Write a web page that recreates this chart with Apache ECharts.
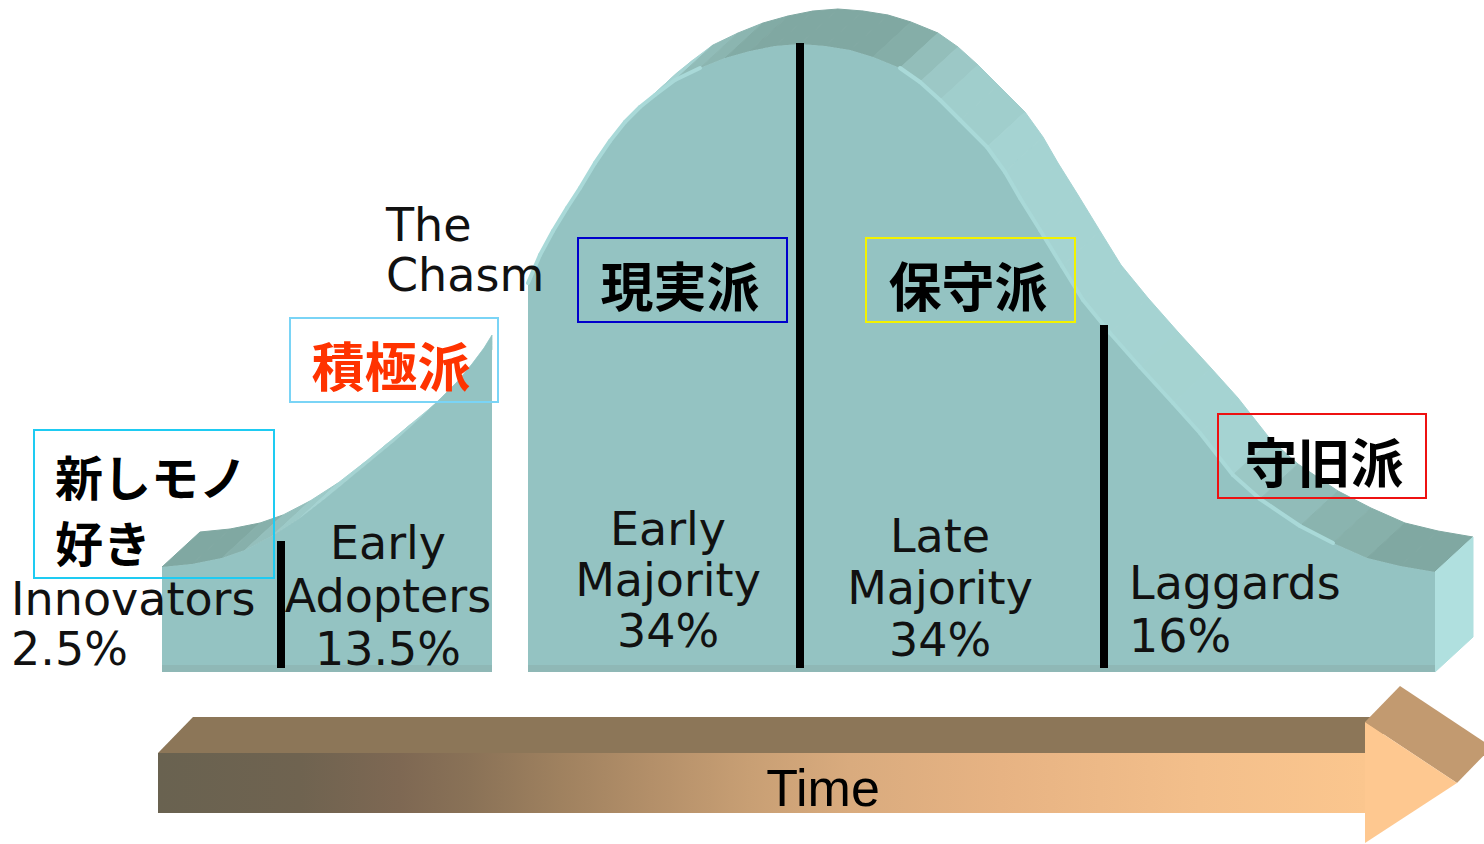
<!DOCTYPE html>
<html>
<head>
<meta charset="utf-8">
<script src="https://cdn.jsdelivr.net/npm/echarts@6/dist/echarts.min.js"></script>
<style>
html,body{margin:0;padding:0;background:#fff;}
#chart{width:1484px;height:844px;}
</style>
</head>
<body>
<div id="chart"></div>
<script>
// ---------------- data ----------------
// Adopter segments (technology adoption life cycle)
const segmentNames  = ['Innovators', 'Early\nAdopters', 'Early\nMajority', 'Late\nMajority', 'Laggards'];
const segmentShares = ['2.5%', '13.5%', '34%', '34%', '16%'];
const segmentTags   = ['新しモノ\n好き', '積極派', '現実派', '保守派', '守旧派'];
const chasmLabel = 'The\nChasm';
const timeLabel = 'Time';

// Front-face top edge of the curve (x position, screen row of the top edge)
const earlyMarketX   = [162,192,222,245,272,300,327,350,373,396,418,440,457,472,484,492];
const earlyMarketTop = [567,564,558,550,536,518,497,478,459,440,420,399,382,364,348,335];
const mainstreamX   = [528,540,553,567,580,595,610,625,640,655,675,700,725,750,775,800,825,850,873,900,
                       920,940,960,987,1005,1020,1040,1062,1083,1110,1140,1173,1200,1233,1260,1300,1333,1367,1400,1435];
const mainstreamTop = [283,255,231,208,188,163,141,122,107,95,80,68,58,51,46,44,46,50,57,68,
                       82,100,120,147,172,198,230,266,300,333,367,403,433,475,499,526,543,558,566,572];
const baseline = 672;
// Segment dividers: x position and top row
const dividerX   = [281, 800, 1104];
const dividerTop = [541, 43, 325];

// ---------------- styling / layout ----------------
const DEPTH = [38, -35];              // 3-D extrusion offset
const C = {
  face: '#94c3c2', topDark: '#80a8a2', topLight: '#a5d3d2', side: '#b0e0df',
  edge: '#a9d9d8', base: '#8fb8b6'
};
const blocks = [
  {x: earlyMarketX, top: earlyMarketTop, side: false, highlight: false},
  {x: mainstreamX,  top: mainstreamTop,  side: true,  highlight: true}
];

function hex2rgb(h){ return [1,3,5].map(i => parseInt(h.substr(i,2),16)); }
function mix(a, b, t){
  const A = hex2rgb(a), B = hex2rgb(b);
  return 'rgb(' + A.map((v,i) => Math.round(v + (B[i]-v)*t)).join(',') + ')';
}
function shade(s){
  const t = s >= 0 ? Math.min(1, Math.max(0, (s - 0.3) / 0.8))
                   : Math.min(1, Math.max(0, (-s - 0.25) / 0.5));
  return mix(C.topDark, C.topLight, t);
}
function clipRight(pts, xmax){
  const out = [], n = pts.length;
  for (let i = 0; i < n; i++){
    const cur = pts[i], prev = pts[(i - 1 + n) % n];
    const ci = cur[0] <= xmax, pi = prev[0] <= xmax;
    const cross = () => {
      const t = (xmax - prev[0]) / (cur[0] - prev[0]);
      return [xmax, prev[1] + (cur[1] - prev[1]) * t];
    };
    if (ci){ if (!pi) out.push(cross()); out.push(cur); }
    else if (pi) out.push(cross());
  }
  return out;
}

function renderBlock(params, api){
  const b = blocks[params.dataIndex];
  const n = b.x.length;
  const P = b.x.map((x,i) => api.coord([x, b.top[i]]));
  const Q = b.x.map((x,i) => api.coord([x + DEPTH[0], b.top[i] + DEPTH[1]]));
  const xEnd = P[n-1][0];
  const baseL = api.coord([b.x[0], baseline]);
  const baseR = api.coord([b.x[n-1], baseline]);
  const children = [];
  for (let i = 0; i < n - 1; i++){
    const s = (b.top[i+1] - b.top[i]) / (b.x[i+1] - b.x[i]);
    let poly = [P[i], P[i+1], Q[i+1], Q[i]];
    if (!b.side) poly = clipRight(poly, xEnd);
    if (poly.length < 3) continue;
    const c = shade(s);
    children.push({type:'polygon', z2: 1, shape:{points: poly}, style:{fill: c, stroke: c, lineWidth: 1}});
  }
  if (b.side){
    const sb = api.coord([b.x[n-1] + DEPTH[0], baseline + DEPTH[1]]);
    children.push({type:'polygon', z2: 2, shape:{points:[P[n-1], baseR, sb, Q[n-1]]},
      style:{fill: C.side, stroke: C.side, lineWidth: 1}});
  }
  children.push({type:'polygon', z2: 3, shape:{points: P.concat([baseR, baseL])},
    style:{fill: C.face}});
  const sL = api.coord([b.x[0], baseline - 7]), sR = api.coord([b.x[n-1], baseline - 7]);
  children.push({type:'polygon', z2: 4, shape:{points:[sL, sR, baseR, baseL]}, style:{fill: C.base}});
  if (b.highlight){
    for (let i = 0; i < n - 1; i++){
      const s = (b.top[i+1] - b.top[i]) / (b.x[i+1] - b.x[i]);
      if (Math.abs(s) < 0.45) continue;
      children.push({type:'line', z2: 5,
        shape:{x1:P[i][0], y1:P[i][1], x2:P[i+1][0], y2:P[i+1][1]},
        style:{stroke: C.edge, lineWidth: 4, lineCap: 'round'}});
    }
  }
  return {type:'group', children};
}

function renderDivider(params, api){
  const p1 = api.coord([api.value(0), api.value(1)]);
  const p2 = api.coord([api.value(0), baseline - 4]);
  return {type:'line', shape:{x1:p1[0], y1:p1[1], x2:p2[0], y2:p2[1]},
    style:{stroke:'#000', lineWidth: 8}};
}

// ---------- annotations (layout) ----------
const LATIN = '46px "DejaVu Sans"';
const labelLayout = [
  {x: 11,   y: 624, align: 'left',   lh: 50},
  {x: 388,  y: 596, align: 'center', lh: 53},
  {x: 668,  y: 580, align: 'center', lh: 51},
  {x: 940,  y: 588, align: 'center', lh: 52},
  {x: 1129, y: 609, align: 'left',   lh: 53}
];
const tagLayout = [
  {x: 55,   y: 508, align: 'left',   lh: 66, size: 48, color: '#000',    box: [34, 430, 240, 148], stroke: '#1ecbf2'},
  {x: 391,  y: 364, align: 'center', lh: 60, size: 53, color: '#ff3300', box: [290, 318, 208, 84], stroke: '#7ad4f6'},
  {x: 680,  y: 284, align: 'center', lh: 60, size: 53, color: '#000',    box: [578, 238, 209, 84], stroke: '#0000cc'},
  {x: 968,  y: 284, align: 'center', lh: 60, size: 53, color: '#000',    box: [866, 238, 209, 84], stroke: '#f2f200'},
  {x: 1324, y: 460, align: 'center', lh: 60, size: 53, color: '#000',    box: [1218, 414, 208, 84], stroke: '#ee1111'}
];

const graphics = [];
// Time arrow
graphics.push({type:'polygon', z: 1, shape:{points:[[158,753],[193,717],[1400,717],[1365,753]]}, style:{fill:'#8c7658'}});
graphics.push({type:'rect', z: 1, shape:{x:158, y:753, width:1207, height:60},
  style:{fill: new echarts.graphic.LinearGradient(0,0,1,0,[
    {offset:0, color:'#696250'}, {offset:0.118, color:'#6f6350'}, {offset:0.2, color:'#7e6853'},
    {offset:0.26, color:'#8a7257'}, {offset:0.333, color:'#9f815f'}, {offset:0.408, color:'#b38f69'},
    {offset:0.49, color:'#c89f74'}, {offset:0.573, color:'#d9ab7e'}, {offset:0.698, color:'#e7b383'},
    {offset:0.863, color:'#f3bf8b'}, {offset:1, color:'#fbc68e'}])}});
graphics.push({type:'polygon', z: 2, shape:{points:[[1365,722],[1400,686],[1492,747],[1457,783]]}, style:{fill:'#c29a70'}});
graphics.push({type:'polygon', z: 2, shape:{points:[[1365,722],[1457,783],[1365,843]]}, style:{fill:'#fec890'}});
graphics.push({type:'text', z: 3, x: 823, y: 788,
  style:{text: timeLabel, font: '52px "Liberation Sans"', fill:'#000', textAlign:'center', textVerticalAlign:'middle'}});

// Chasm label
graphics.push({type:'text', z: 30, x: 386, y: 250,
  style:{text: chasmLabel, font: LATIN, fill:'#111', textAlign:'left', textVerticalAlign:'middle', lineHeight: 50}});

// Segment labels
segmentNames.forEach((name, i) => {
  const L = labelLayout[i];
  graphics.push({type:'text', z: 30, x: L.x, y: L.y,
    style:{text: name + '\n' + segmentShares[i], font: LATIN, fill:'#111',
      textAlign: L.align, textVerticalAlign:'middle', lineHeight: L.lh}});
});

// Japanese tags with boxes
segmentTags.forEach((tag, i) => {
  const T = tagLayout[i];
  graphics.push({type:'rect', z: 31, shape:{x:T.box[0], y:T.box[1], width:T.box[2], height:T.box[3]},
    style:{fill:'rgba(0,0,0,0)', stroke:T.stroke, lineWidth:2}});
  graphics.push({type:'text', z: 32, x: T.x, y: T.y,
    style:{text: tag, font: 'bold ' + T.size + 'px "Noto Sans CJK JP"', fill: T.color,
      textAlign: T.align, textVerticalAlign:'middle', lineHeight: T.lh}});
});

const chart = echarts.init(document.getElementById('chart'), null, {renderer: 'svg'});
chart.setOption({
  animation: false,
  backgroundColor: '#ffffff',
  grid: {left: 0, right: 0, top: 0, bottom: 0},
  xAxis: {type: 'value', min: 0, max: 1484, show: false},
  yAxis: {type: 'value', min: 0, max: 844, inverse: true, show: false},
  series: [
    {type: 'custom', name: 'adoption', z: 2, renderItem: renderBlock, data: [[0, 0], [1, 0]]},
    {type: 'custom', name: 'dividers', z: 5, renderItem: renderDivider,
     data: dividerX.map((x, i) => [x, dividerTop[i]])}
  ],
  graphic: {elements: graphics}
});
</script>
</body>
</html>
